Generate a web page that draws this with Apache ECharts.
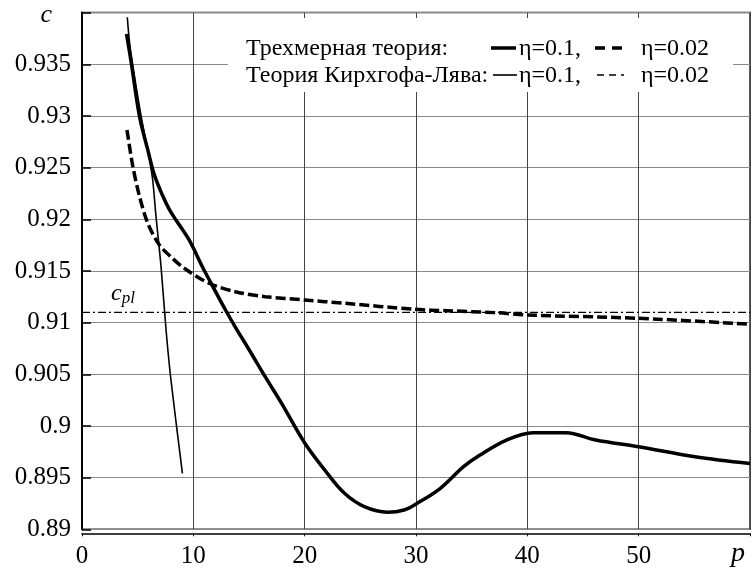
<!DOCTYPE html>
<html>
<head>
<meta charset="utf-8">
<script src="https://cdn.jsdelivr.net/npm/echarts@6/dist/echarts.min.js"></script>
<style>html,body{margin:0;padding:0;background:#fff;}#c{width:753px;height:571px;}</style>
</head>
<body>
<div id="c"></div>
<script>
// 3D theory, eta = 0.1 (thick solid)
const p3d01 = [4.0, 4.43, 5.17, 5.91, 6.50, 7.24, 7.84, 8.44, 9.62, 10.81, 11.55, 12.89, 13.92, 14.97, 16.45, 17.93, 20.02, 21.80, 23.58, 25.36, 27.44, 28.93, 30.11, 32.19, 34.27, 35.75, 38.13, 40.51, 43.47, 46.15, 50.00, 55.06, 60.0];
const c3d01 = [0.93793, 0.93510, 0.92993, 0.92671, 0.92430, 0.92230, 0.92095, 0.91993, 0.91800, 0.91541, 0.91390, 0.91122, 0.90929, 0.90745, 0.90477, 0.90219, 0.89832, 0.89574, 0.89348, 0.89219, 0.89165, 0.89187, 0.89252, 0.89397, 0.89606, 0.89719, 0.89864, 0.89935, 0.89935, 0.89864, 0.89799, 0.89703, 0.89637];
// 3D theory, eta = 0.02 (thick dashed)
const p3d002 = [4.04, 4.57, 5.17, 5.91, 6.95, 8.13, 9.18, 11.40, 13.78, 16.45, 20.02, 23.58, 29.82, 32.78, 37.24, 39.91, 50.00, 60.0];
const c3d002 = [0.92864, 0.92509, 0.92219, 0.91961, 0.91751, 0.91622, 0.91526, 0.91381, 0.91299, 0.91251, 0.91219, 0.91187, 0.91129, 0.91115, 0.91096, 0.91074, 0.91042, 0.90985];
// Kirchhoff-Love, eta = 0.1 (thin solid)
const pKL01 = [4.07, 4.28, 4.72, 5.32, 6.06, 6.35, 6.65, 7.10, 7.55, 7.99, 9.02];
const cKL01 = [0.93955, 0.93703, 0.93380, 0.92993, 0.92574, 0.92380, 0.92025, 0.91541, 0.90929, 0.90445, 0.89542];
// Kirchhoff-Love, eta = 0.02 (dash-dot), coincides with c_pl
const pKL002 = [0, 60];
const cKL002 = [0.911, 0.911];
const xTicks = [0, 10, 20, 30, 40, 50];
const yTicks = [0.89, 0.895, 0.9, 0.905, 0.91, 0.915, 0.92, 0.925, 0.93, 0.935];

const FONT = 'Liberation Serif';
const zip = (a, b) => a.map((v, i) => [v, b[i]]);

const chart = echarts.init(document.getElementById('c'), null, {renderer: 'canvas'});
chart.setOption({
  animation: false,
  backgroundColor: '#fff',
  grid: {left: 82, top: 12.6, width: 673.5, height: 516.7, show: true, borderColor: '#222', borderWidth: 1.5, backgroundColor: 'transparent'},
  xAxis: {
    type: 'value', min: 0, max: 60, interval: 10, offset: 4,
    name: 'p', nameLocation: 'end', nameGap: -19,
    nameTextStyle: {fontFamily: FONT, fontStyle: 'italic', fontSize: 28, color: '#000', verticalAlign: 'top', padding: [6, 0, 0, 0]},
    axisLine: {show: true, lineStyle: {color: '#000', width: 1.5}},
    axisTick: {show: true, inside: false, length: 3, lineStyle: {color: '#000'}},
    axisLabel: {fontFamily: FONT, fontSize: 25, color: '#000', margin: 11,
      formatter: v => xTicks.indexOf(v) >= 0 ? String(v) : ''},
    splitLine: {show: true, lineStyle: {color: '#444', width: 1}}
  },
  yAxis: {
    type: 'value', min: 0.89, max: 0.94, interval: 0.005,
    name: 'c', nameLocation: 'end', nameGap: -3,
    nameTextStyle: {fontFamily: FONT, fontStyle: 'italic', fontSize: 26, color: '#000', align: 'right', verticalAlign: 'middle', padding: [0, 30, 0, 0]},
    axisLine: {show: true, lineStyle: {color: '#000', width: 2}},
    axisTick: {show: true, inside: true, length: 9, lineStyle: {color: '#000', width: 1.5}},
    axisLabel: {fontFamily: FONT, fontSize: 25, color: '#000', margin: 11,
      formatter: v => {
        const r = +v.toFixed(3);
        return yTicks.some(t => Math.abs(t - r) < 1e-9) ? String(r) : '';
      }},
    splitLine: {show: true, lineStyle: {color: '#8a8a8a', width: 1}}
  },
  series: [
    {name: 'Трехмерная теория: η=0.1', type: 'line', data: zip(p3d01, c3d01), symbol: 'none', smooth: 0.35,
      lineStyle: {color: '#000', width: 3.5, type: 'solid'}, z: 5},
    {name: 'Трехмерная теория: η=0.02', type: 'line', data: zip(p3d002, c3d002), symbol: 'none', smooth: 0.3,
      lineStyle: {color: '#000', width: 3.5, type: [10, 4]}, z: 5},
    {name: 'Теория Кирхгофа-Лява: η=0.1', type: 'line', data: zip(pKL01, cKL01), symbol: 'none', smooth: 0.3,
      lineStyle: {color: '#000', width: 1.6, type: 'solid'}, z: 5},
    {name: 'Теория Кирхгофа-Лява: η=0.02', type: 'line', data: zip(pKL002, cKL002), symbol: 'none',
      lineStyle: {color: '#000', width: 1.2, type: [8, 3, 2, 3]}, z: 4}
  ],
  graphic: [
    {type: 'rect', z: 100, shape: {x: 228, y: 18, width: 505, height: 74}, style: {fill: '#fff'}},
    {type: 'text', z: 101, x: 246, y: 49, style: {text: 'Трехмерная теория:', font: '24px "Liberation Serif"', fill: '#000', verticalAlign: 'middle'}},
    {type: 'line', z: 101, shape: {x1: 491, y1: 48, x2: 516, y2: 48}, style: {stroke: '#000', lineWidth: 3.5}},
    {type: 'text', z: 101, x: 519, y: 49, style: {text: 'η=0.1,', font: '24px "Liberation Serif"', fill: '#000', verticalAlign: 'middle'}},
    {type: 'line', z: 101, shape: {x1: 595, y1: 48, x2: 622, y2: 48}, style: {stroke: '#000', lineWidth: 3.5, lineDash: [10, 7]}},
    {type: 'text', z: 101, x: 641, y: 49, style: {text: 'η=0.02', font: '24px "Liberation Serif"', fill: '#000', verticalAlign: 'middle'}},
    {type: 'text', z: 101, x: 246, y: 76, style: {text: 'Теория Кирхгофа-Лява:', font: '24px "Liberation Serif"', fill: '#000', verticalAlign: 'middle'}},
    {type: 'line', z: 101, shape: {x1: 493, y1: 75, x2: 517, y2: 75}, style: {stroke: '#000', lineWidth: 1.6}},
    {type: 'text', z: 101, x: 519, y: 76, style: {text: 'η=0.1,', font: '24px "Liberation Serif"', fill: '#000', verticalAlign: 'middle'}},
    {type: 'line', z: 101, shape: {x1: 597, y1: 75, x2: 629, y2: 75}, style: {stroke: '#000', lineWidth: 1.3, lineDash: [7, 5, 7, 5, 3, 5]}},
    {type: 'text', z: 101, x: 641, y: 76, style: {text: 'η=0.02', font: '24px "Liberation Serif"', fill: '#000', verticalAlign: 'middle'}},
    {type: 'text', z: 101, x: 111, y: 294, style: {
      text: '{c|c}{s|pl}', verticalAlign: 'middle',
      rich: {
        c: {fontFamily: FONT, fontStyle: 'italic', fontSize: 24, fill: '#000', color: '#000'},
        s: {fontFamily: FONT, fontStyle: 'italic', fontSize: 17, fill: '#000', color: '#000', padding: [10, 0, 0, 0]}
      }}}
  ]
});
</script>
</body>
</html>
